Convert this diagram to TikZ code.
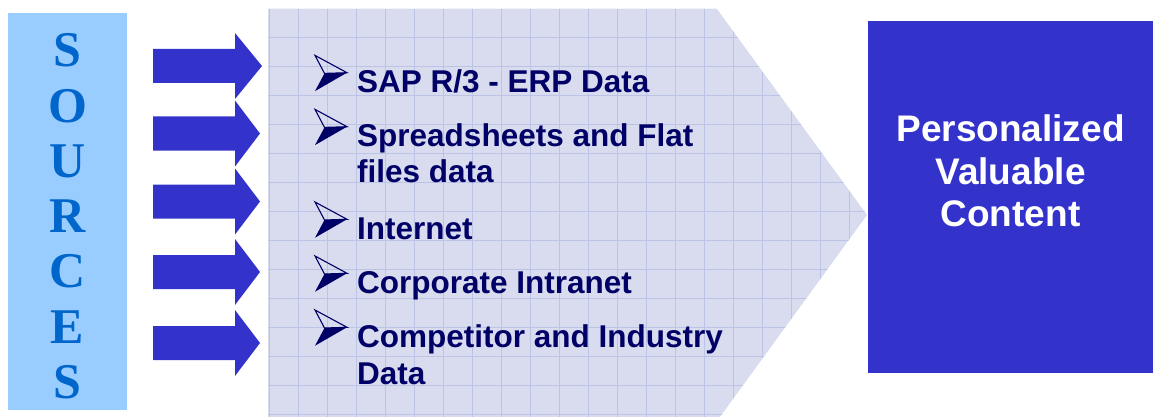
\documentclass[tikz,border=0pt]{standalone}
\usepackage{fontspec}
\setmainfont{Liberation Sans}
\newfontfamily\srcserif{Liberation Serif}
\definecolor{srcbox}{HTML}{99CCFF}
\definecolor{srcletter}{HTML}{0066CC}
\definecolor{arrowblue}{HTML}{3333CC}
\definecolor{chevfill}{RGB}{216,220,238}
\definecolor{gridcol}{RGB}{188,196,230}
\definecolor{navy}{RGB}{0,0,102}
\begin{document}
\begin{tikzpicture}[x=1pt,y=-1pt,
  letter/.style={anchor=base, text=srcletter, font=\srcserif\bfseries\fontsize{50}{50}\selectfont, inner sep=0},
  item/.style={anchor=base west, text=navy, font=\bfseries\fontsize{31.5}{36}\selectfont, inner sep=0},
  blockarrow/.style={fill=arrowblue},
  gridline/.style={draw=gridcol, line width=0.8pt},
  bulletmark/.pic={
    \fill[navy] (9.5,-19.3) -- (32,-20) -- (0,-1.6) -- cycle;
    \draw[navy, line width=1.1pt, line join=miter] (0,-37.3) -- (32,-20) -- (9.5,-19.3) -- cycle;
  }]
\useasboundingbox (0,0) rectangle (1153,417);
% sources box
\node[fill=srcbox, anchor=north west, minimum width=119pt, minimum height=397pt, inner sep=0] (src) at (8,13) {};
\node[letter] (l1) at (67.5,66.7) {S};
\node[letter] (l2) at (67.5,122) {O};
\node[letter] (l3) at (67.5,177.3) {U};
\node[letter] (l4) at (67.5,232.6) {R};
\node[letter] (l5) at (67.5,287.9) {C};
\node[letter] (l6) at (67.5,343.2) {E};
\node[letter] (l7) at (67.5,398.5) {S};
% chevron with grid
\begin{scope}
  \clip (0,0) rectangle (1153,417);
  \fill[chevfill] (268,9) -- (717,9) -- (867,215) -- (717,421) -- (268,421) -- cycle;
  \clip (268,9) -- (717,9) -- (867,215) -- (717,421) -- (268,421) -- cycle;
  \foreach \k in {0,...,20} {
    \draw[gridline] ({269+29*\k},0) -- ({269+29*\k},421);
  }
  \foreach \k in {0,...,14} {
    \draw[gridline] (260,{8+29*\k}) -- (880,{8+29*\k});
  }
\end{scope}
\coordinate (chev) at (268,215);
% block arrows
\foreach \yc/\tx in {66/262, 133.5/260, 201.5/260, 272/260, 343/260} {
  \fill[blockarrow] (153,{\yc-17}) -- (235,{\yc-17}) -- (235,{\yc-33}) -- (\tx,\yc)
     -- (235,{\yc+33}) -- (235,{\yc+17}) -- (153,{\yc+17}) -- cycle;
}
% bullets and items
\pic at (315,92.7) {bulletmark};
\node[item] (t1) at (357,92.7) {SAP R/3 - ERP Data};
\pic at (315,146.7) {bulletmark};
\node[item] (t2) at (357,146.7) {Spreadsheets and Flat};
\node[item] (t2b) at (357,182.7) {files data};
\pic at (315,239.3) {bulletmark};
\node[item] (t3) at (357,239.3) {Internet};
\pic at (315,293.3) {bulletmark};
\node[item] (t4) at (357,293.3) {Corporate Intranet};
\pic at (315,347.3) {bulletmark};
\node[item] (t5) at (357,347.3) {Competitor and Industry};
\node[item] (t5b) at (357,384.3) {Data};
% result box
\node[fill=arrowblue, anchor=north west, minimum width=285pt, minimum height=352pt, inner sep=0] (pvc) at (868,21) {};
\node[anchor=base, text=white, align=center, inner sep=0, font=\bfseries\fontsize{37}{42.5}\selectfont] (pvct) at (1010.5,226.7) {Personalized\\Valuable\\Content};
\end{tikzpicture}
\end{document}
